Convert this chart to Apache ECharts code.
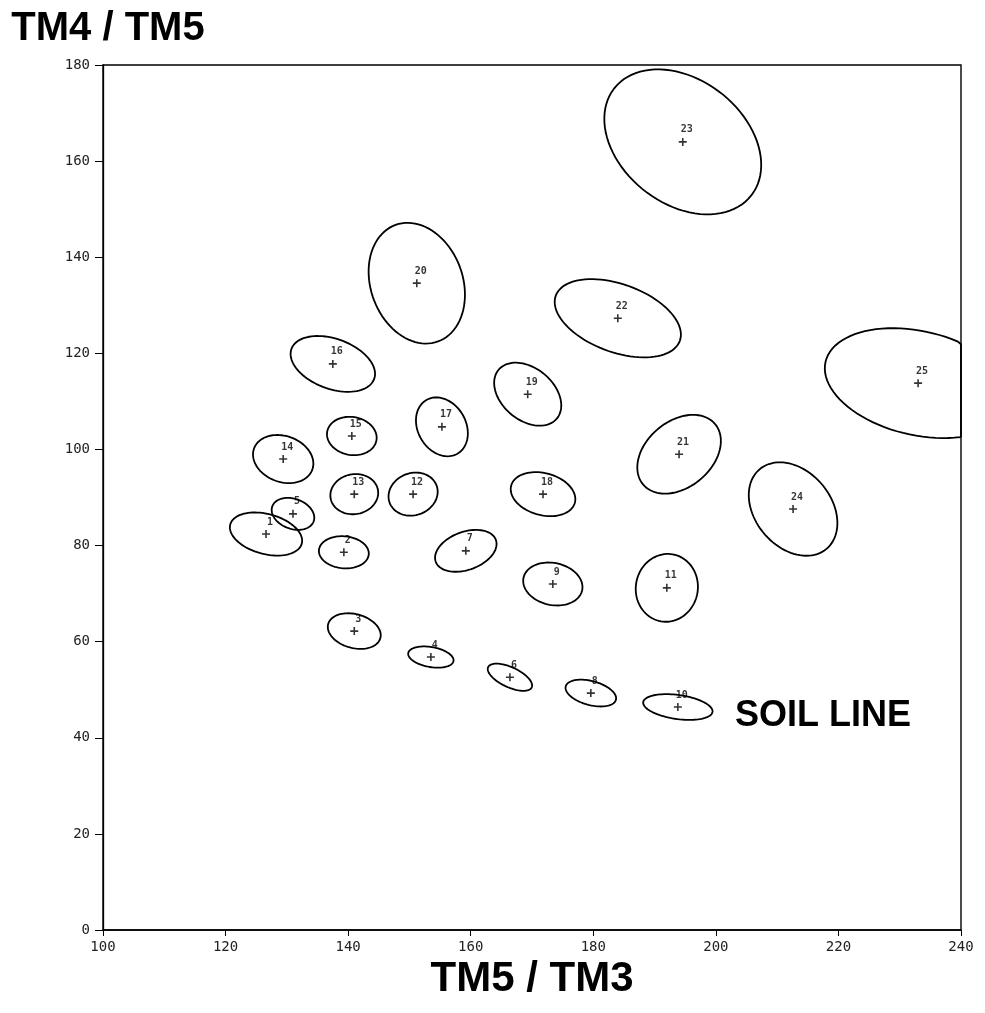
<!DOCTYPE html>
<html lang="en">
<head>
    <meta charset="UTF-8">
    <title>TM4/TM5 vs TM5/TM3</title>
    <style>
        html, body { margin: 0; padding: 0; background: #fff; }
    </style>
</head>
<body>
    <div id="main" style="width: 985px;height:1013px;"></div>

    <script src="https://cdn.jsdelivr.net/npm/echarts@6/dist/echarts.min.js"></script>
    <script type="text/javascript">
        // class numbers
        var classIds = ['1','2','3','4','5','6','7','8','9','10','11','12','13',
                        '14','15','16','17','18','19','20','21','22','23','24','25'];
        // class means, TM5/TM3 (x) and TM4/TM5 (y)
        var tm53 = [126.6, 139.3, 141.0, 153.5, 131.0, 166.4, 159.2, 179.6, 173.4, 193.8,
                    192.0, 150.6, 141.0, 129.4, 140.6, 137.5, 155.3, 171.8, 169.3, 151.2,
                    194.0, 184.0, 194.6, 212.6, 233.0];
        var tm45 = [82.4, 78.6, 62.2, 56.8, 86.6, 52.6, 78.9, 49.3, 72.0, 46.4,
                    71.2, 90.7, 90.7, 98.0, 102.8, 117.8, 104.7, 90.7, 111.5, 134.6,
                    99.0, 127.3, 164.0, 87.6, 113.8];
        // ellipse semi axes (in TM5/TM3 units) and tilt in degrees
        var semiMajor = [6.04, 4.08, 4.41, 3.75, 3.59, 3.92, 5.22, 4.24, 4.89, 5.71,
                         5.55, 4.08, 3.92, 5.06, 4.08, 7.18, 5.06, 5.38, 6.20, 10.12,
                         7.67, 10.77, 14.19, 8.48, 15.50];
        var semiMinor = [3.26, 2.61, 2.77, 1.63, 2.45, 1.63, 3.10, 1.96, 3.43, 1.96,
                         5.06, 3.43, 3.26, 3.75, 3.10, 4.08, 3.92, 3.43, 4.24, 7.51,
                         5.38, 5.55, 10.12, 6.20, 8.48];
        var tilt = [15, 5, 15, 10, 20, 25, -20, 15, 12, 8,
                    -80, -20, -10, 20, 10, 20, 60, 15, 40, 70,
                    -40, 20, 38, 50, 13];

        var xTicks = [100, 120, 140, 160, 180, 200, 220, 240];
        var yTicks = [0, 20, 40, 60, 80, 100, 120, 140, 160, 180];

        var ellipseData = classIds.map(function (id, i) {
            return [tm53[i], tm45[i], semiMajor[i], semiMinor[i], tilt[i]];
        });
        var pointData = classIds.map(function (id, i) {
            return { name: id, value: [tm53[i], tm45[i]] };
        });

        var myChart = echarts.init(document.getElementById('main'));

        var tickFont = { fontFamily: 'DejaVu Sans Mono', fontSize: 14, color: '#222' };

        var option = {
            backgroundColor: '#fff',
            animation: false,
            grid: {
                left: 103, top: 65, right: 24, bottom: 83,
                show: true, borderColor: '#000', borderWidth: 1.4
            },
            xAxis: {
                type: 'value',
                min: xTicks[0], max: xTicks[xTicks.length - 1], interval: 20,
                name: 'TM5 / TM3',
                nameLocation: 'middle',
                nameGap: 12,
                nameTextStyle: {
                    fontFamily: "'Liberation Sans', Arial",
                    fontWeight: 'bold', fontSize: 42, color: '#000',
                    verticalAlign: 'top'
                },
                axisLine: { lineStyle: { color: '#000', width: 1.6 } },
                axisTick: { length: 6, lineStyle: { color: '#000' } },
                axisLabel: Object.assign({ margin: 10 }, tickFont),
                splitLine: { show: false }
            },
            yAxis: {
                type: 'value',
                min: yTicks[0], max: yTicks[yTicks.length - 1], interval: 20,
                name: 'TM4 / TM5',
                nameLocation: 'end',
                nameGap: 16,
                nameTextStyle: {
                    fontFamily: "'Liberation Sans', Arial",
                    fontWeight: 'bold', fontSize: 40, color: '#000',
                    padding: [0, 0, 0, 10]
                },
                axisLine: { lineStyle: { color: '#000', width: 1.3 } },
                axisTick: { length: 8, lineStyle: { color: '#000' } },
                axisLabel: Object.assign({ margin: 13 }, tickFont),
                splitLine: { show: false }
            },
            graphic: [{
                type: 'text',
                left: 735, top: 698,
                style: {
                    text: 'SOIL LINE',
                    font: "bold 36px 'Liberation Sans', Arial",
                    fill: '#000'
                }
            }],
            series: [
                {
                    type: 'custom',
                    name: 'ellipses',
                    data: ellipseData,
                    silent: true,
                    renderItem: function (params, api) {
                        var c = api.coord([api.value(0), api.value(1)]);
                        var a = api.size([api.value(2), 0])[0];
                        var b = api.size([api.value(3), 0])[0];
                        var t = api.value(4) * Math.PI / 180;
                        var cs = params.coordSys;
                        var xmax = cs.x + cs.width;
                        var pts = [];
                        for (var k = 0; k < 90; k++) {
                            var th = k / 90 * Math.PI * 2;
                            var px = c[0] + a * Math.cos(th) * Math.cos(t) - b * Math.sin(th) * Math.sin(t);
                            var py = c[1] + a * Math.cos(th) * Math.sin(t) + b * Math.sin(th) * Math.cos(t);
                            pts.push([Math.min(px, xmax), py]);
                        }
                        return {
                            type: 'polygon',
                            shape: { points: pts },
                            style: { fill: 'none', stroke: '#000', lineWidth: 1.8 }
                        };
                    }
                },
                {
                    type: 'scatter',
                    name: 'means',
                    data: pointData,
                    symbol: 'path://M4 0H6V4H10V6H6V10H4V6H0V4H4Z',
                    symbolSize: 8,
                    itemStyle: { color: '#000' },
                    label: {
                        show: true,
                        formatter: '{b}',
                        position: 'top',
                        distance: 3,
                        offset: [4, 0],
                        fontFamily: 'DejaVu Sans Mono',
                        fontWeight: 'bold',
                        fontSize: 10,
                        color: '#000'
                    }
                }
            ]
        };
        myChart.setOption(option);
    </script>
</body>
</html>
